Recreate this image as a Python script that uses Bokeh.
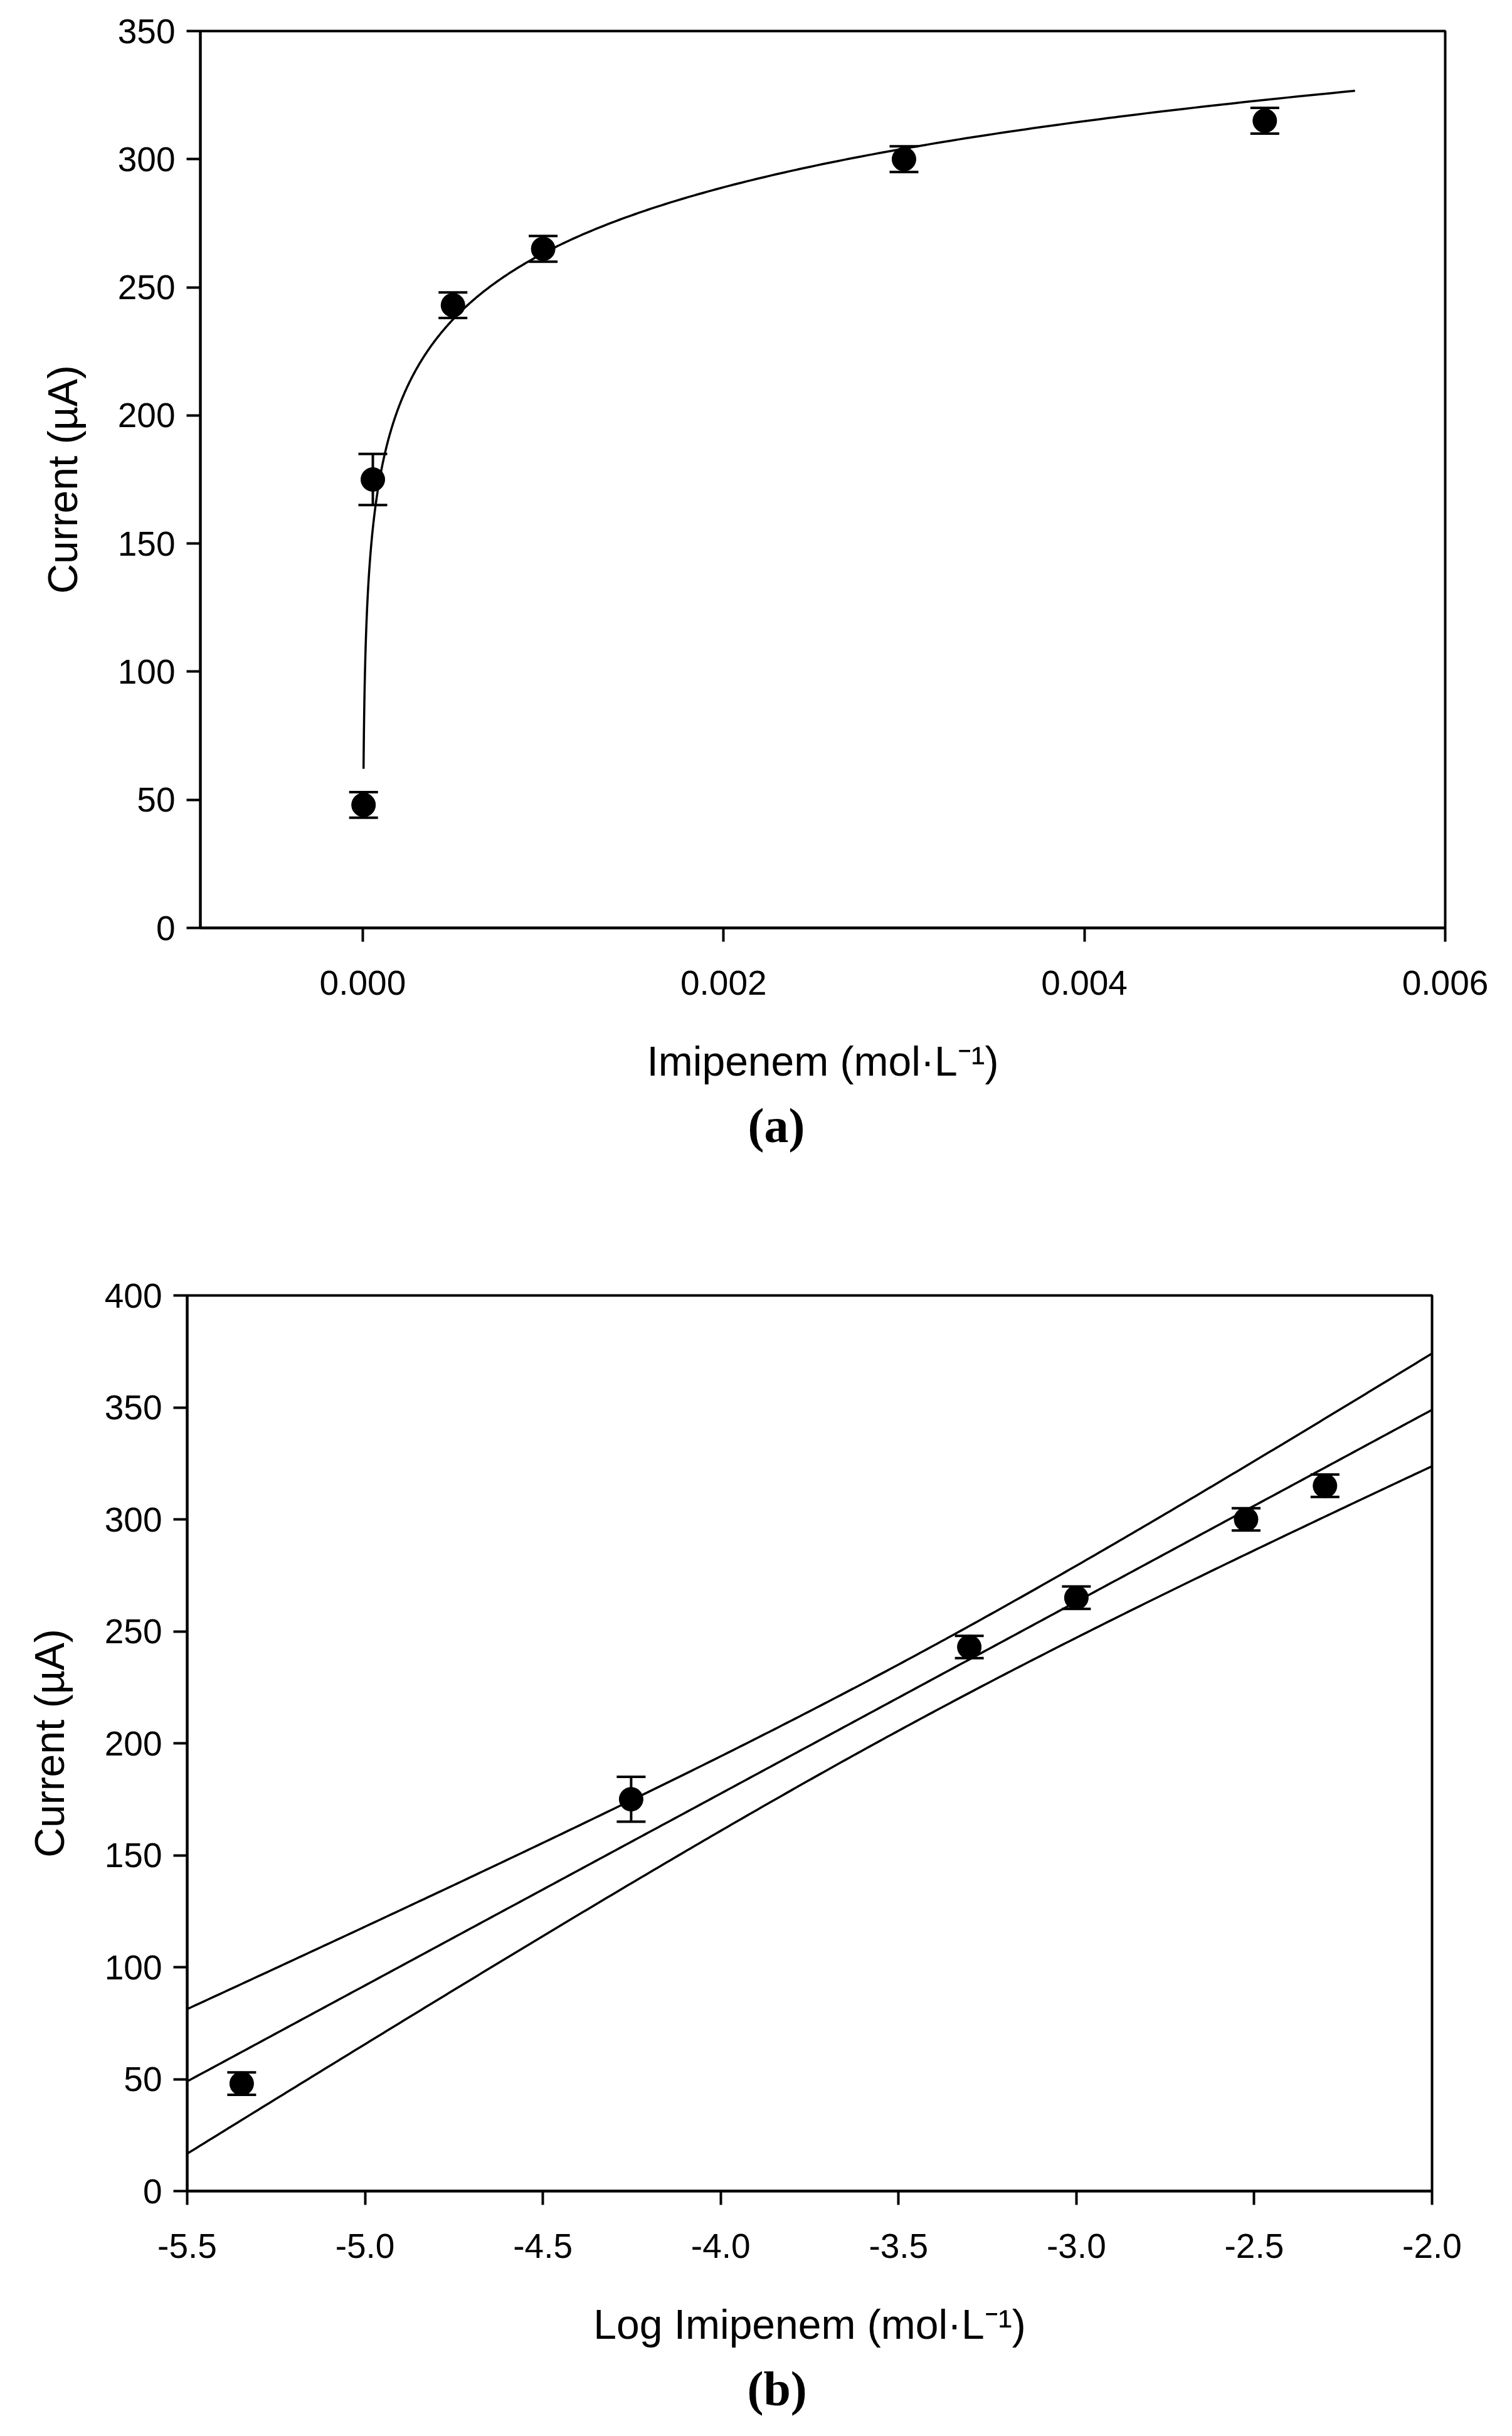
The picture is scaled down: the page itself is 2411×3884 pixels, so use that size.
import numpy as np
from bokeh.plotting import figure
from bokeh.models import (ColumnDataSource, Range1d, FixedTicker, PrintfTickFormatter,
                          Whisker, TeeHead, Title)
from bokeh.layouts import column
from bokeh.embed import file_html
from bokeh.resources import INLINE

# ---------------- data ----------------
conc = [4.5e-6, 5.6e-5, 5e-4, 1e-3, 3e-3, 5e-3]          # Imipenem (mol/L)
current = [48, 175, 243, 265, 300, 315]                  # Current (uA)
current_err = [5, 10, 5, 5, 5, 5]                        # error (uA)

xticks_a = [0.0, 0.002, 0.004, 0.006]
yticks_a = [0, 50, 100, 150, 200, 250, 300, 350]
xticks_b = [-5.5, -5.0, -4.5, -4.0, -3.5, -3.0, -2.5, -2.0]
yticks_b = [0, 50, 100, 150, 200, 250, 300, 350, 400]

fit_end_conc = 0.0055      # end of the fitted curve in panel (a)
t_95 = 2.776               # Student t (0.975, n-2 = 4)

xlabel_a = "Imipenem (mol·L⁻¹)"
xlabel_b = "Log Imipenem (mol·L⁻¹)"
ylabel = "Current (µA)"

# ---------------- regression (log-linear) ----------------
log_conc = np.log10(conc)
cur = np.array(current, dtype=float)
err = np.array(current_err, dtype=float)
slope, intercept = np.polyfit(log_conc, cur, 1)
n = len(cur)
resid = cur - (intercept + slope * log_conc)
s = np.sqrt(np.sum(resid ** 2) / (n - 2))
xbar = log_conc.mean()
sxx = np.sum((log_conc - xbar) ** 2)

FONT = "Liberation Sans"


def style(p, xticks, yticks, xfmt):
    p.xgrid.visible = False
    p.ygrid.visible = False
    p.outline_line_color = "black"
    p.outline_line_width = 4
    p.background_fill_color = "white"
    p.border_fill_color = "white"
    for ax in (p.xaxis[0], p.yaxis[0]):
        ax.axis_line_width = 4
        ax.axis_line_color = "black"
        ax.major_tick_line_width = 4
        ax.major_tick_line_color = "black"
        ax.major_tick_in = 0
        ax.major_tick_out = 22
        ax.minor_tick_line_color = None
        ax.major_label_text_font = FONT
        ax.major_label_text_font_size = "55px"
        ax.major_label_text_color = "black"
        ax.axis_label_text_font = FONT
        ax.axis_label_text_font_size = "66px"
        ax.axis_label_text_font_style = "normal"
        ax.axis_label_text_color = "black"
    p.xaxis[0].ticker = FixedTicker(ticks=xticks)
    p.yaxis[0].ticker = FixedTicker(ticks=yticks)
    p.xaxis[0].formatter = PrintfTickFormatter(format=xfmt)
    p.xaxis[0].major_label_standoff = 46
    p.yaxis[0].major_label_standoff = 18
    p.xaxis[0].axis_label_standoff = 66
    p.yaxis[0].axis_label_standoff = 48


def add_points(p, xs):
    src = ColumnDataSource(dict(x=list(xs), y=list(cur), lo=list(cur - err), hi=list(cur + err)))
    w = Whisker(base="x", lower="lo", upper="hi", source=src, line_width=4, line_color="black",
                upper_head=TeeHead(size=46, line_width=4, line_color="black"),
                lower_head=TeeHead(size=46, line_width=4, line_color="black"))
    p.add_layout(w)
    p.scatter("x", "y", source=src, size=38, marker="circle", fill_color="black", line_color="black")


def panel_label(p, text, offset):
    t = Title(text=text, align="left", offset=offset, standoff=34,
              text_font="Liberation Serif", text_font_style="bold",
              text_font_size="78px", text_color="black")
    p.add_layout(t, "below")


# ---------------- panel (a) ----------------
pa = figure(width=2395, height=1940, output_backend="svg", toolbar_location=None,
            x_range=Range1d(-0.0009, 0.006), y_range=Range1d(0, 350),
            min_border_left=319, min_border_right=91, min_border_top=49, min_border_bottom=461,
            x_axis_label=xlabel_a, y_axis_label=ylabel, frame_align=False)
style(pa, xticks_a, yticks_a, "%.3f")
xa = np.geomspace(conc[0], fit_end_conc, 600)
pa.line(xa, intercept + slope * np.log10(xa), line_color="black", line_width=3.5)
add_points(pa, conc)
panel_label(pa, "(a)", 873)

# ---------------- panel (b) ----------------
pb = figure(width=2395, height=1928, output_backend="svg", toolbar_location=None,
            x_range=Range1d(-5.5, -2.0), y_range=Range1d(0, 400),
            min_border_left=298, min_border_right=112, min_border_top=125, min_border_bottom=373,
            x_axis_label=xlabel_b, y_axis_label=ylabel, frame_align=False)
style(pb, xticks_b, yticks_b, "%.1f")
xb = np.linspace(xticks_b[0], xticks_b[-1], 300)
yb = intercept + slope * xb
half = t_95 * s * np.sqrt(1.0 / n + (xb - xbar) ** 2 / sxx)
for yy in (yb + half, yb, yb - half):
    pb.line(xb, yy, line_color="black", line_width=3.5)
add_points(pb, log_conc)
panel_label(pb, "(b)", 893)

layout = column(pa, pb, spacing=0)
open("out.html", "w").write(file_html(layout, INLINE))
